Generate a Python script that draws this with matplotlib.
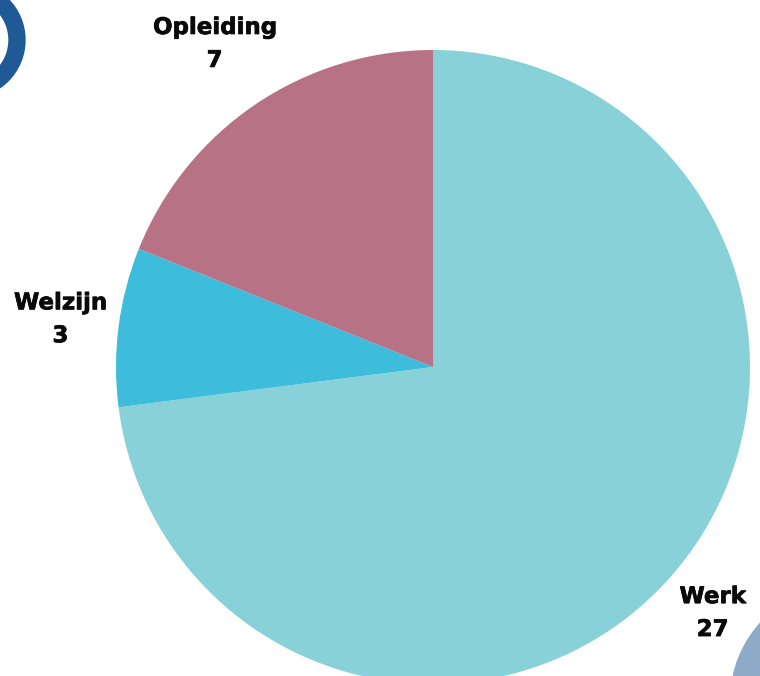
import numpy as np
import matplotlib
matplotlib.use("Agg")
import matplotlib.pyplot as plt
from matplotlib.patches import Circle
import matplotlib.patheffects as pe

categories = ["Werk", "Welzijn", "Opleiding"]
values = [27, 3, 7]
colors = ["#88d1d8", "#3dbcdb", "#b77285"]
label_dist = [1.175, 1.185, 1.23]

W, H = 760, 676
fig = plt.figure(figsize=(W / 100, H / 100), dpi=100)
ax = fig.add_axes([0, 0, 1, 1])
ax.set_xlim(0, W)
ax.set_ylim(0, H)
ax.set_aspect("equal")
ax.axis("off")

cx, cy, R = 433, H - 367, 317

# decorative circles
ax.add_patch(Circle((-33, H - 40), 50, fill=False, edgecolor="#1f5a96", linewidth=12.5, zorder=1))
ax.add_patch(Circle((845, H - 700), 115, facecolor="#8eaac8", edgecolor="none", zorder=1))

wedges, _ = ax.pie(values, colors=colors, startangle=90, counterclock=False,
                   center=(cx, cy), radius=R, frame=True,
                   wedgeprops=dict(linewidth=0, zorder=2))
ax.set_xlim(0, W)
ax.set_ylim(0, H)
ax.axis("off")

total = sum(values)
start = 90.0
for cat, v, d in zip(categories, values, label_dist):
    sweep = 360.0 * v / total
    mid = np.deg2rad(start - sweep / 2)
    start -= sweep
    x = cx + d * R * np.cos(mid)
    y = cy + d * R * np.sin(mid)
    ax.text(x, y, f"{cat}\n{v}", ha="center", va="center", fontsize=16.5,
            fontweight="bold", family=["DejaVu Sans"],
            linespacing=1.55, color="#0a0a0a", zorder=3,
            path_effects=[pe.withStroke(linewidth=0.5, foreground="#0a0a0a")])

fig.savefig("out.png", dpi=100)
